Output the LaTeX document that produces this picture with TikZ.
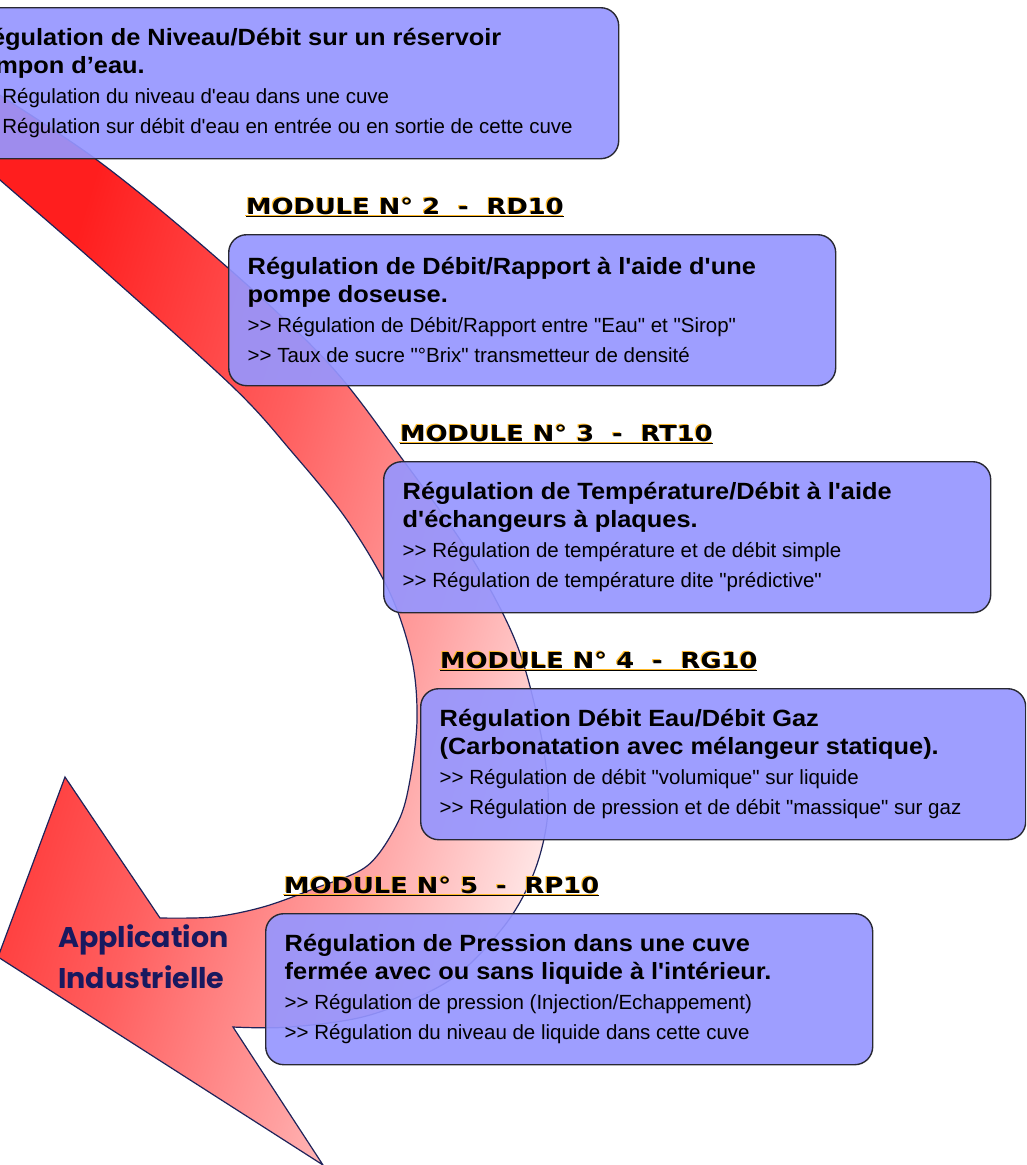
\documentclass[tikz,border=0pt]{standalone}
\usepackage{fontspec}
\setmainfont{Liberation Sans}
\newfontfamily\boxfam[FakeStretch=1.08,Ligatures=TeXOff]{Liberation Sans}
\newfontfamily\linefam[Ligatures=TeXOff]{Liberation Sans}
\newfontfamily\headfam[FakeStretch=1.17]{DejaVu Sans}
\newfontfamily\appfam{Poppins}
\setlength\parindent{0pt}

\definecolor{boxblue}{RGB}{150,150,255}
\definecolor{boxline}{RGB}{40,40,50}
\definecolor{arrowred}{RGB}{255,30,30}
\definecolor{arrowmid}{RGB}{255,95,95}
\definecolor{arrowpink}{RGB}{255,160,160}
\definecolor{arrowpale}{RGB}{255,238,238}
\definecolor{arrowline}{RGB}{30,35,90}
\definecolor{appnavy}{RGB}{25,25,95}
\definecolor{headglow}{RGB}{255,185,40}

\pgfdeclarehorizontalshading{redfade}{100bp}{color(0bp)=(arrowred); color(30bp)=(arrowred); color(48bp)=(arrowmid); color(62bp)=(arrowpink); color(76bp)=(arrowpale); color(100bp)=(arrowpale)}

\newcommand\modtitle{\boxfam\bfseries\fontsize{23.5}{28}\selectfont\spaceskip=7pt\relax}
\newcommand\modline{\linefam\mdseries\fontsize{20.5}{30}\selectfont\spaceskip=0pt\relax}
\newcommand\modhead[1]{\rlap{\kern-1.1pt\raisebox{0.6pt}{\color{headglow}\underline{#1}}}\underline{#1}}

\begin{document}
\begin{tikzpicture}[x=1pt, y=-1pt,
	modbox/.style={draw=boxline, line width=1.4pt, fill=boxblue, fill opacity=0.92, text opacity=1,
		rounded corners=18pt, anchor=north west, minimum width=607pt, minimum height=151pt,
		inner xsep=19pt, text width=569pt, align=left},
	headtext/.style={anchor=base west, inner sep=0pt, font=\headfam\bfseries\fontsize{22}{26}\selectfont},
	apptext/.style={anchor=base west, inner sep=0pt, align=left, text=appnavy,
		font=\appfam\bfseries\fontsize{28.5}{41}\selectfont},
	arrowshape/.style={draw=arrowline, line width=1.2pt, shading=redfade, shading angle=-17}]

	\useasboundingbox (0,0) rectangle (1026,1165);
	\clip (0,0) rectangle (1026,1165);

	% big curved arrow behind the modules
	\shade[arrowshape] plot[smooth, tension=0.55] coordinates {(-40,70) (97,160) (227,267) (330,365) (403,460) (470,555) (517,645) (542,740) (548,810) (535,870) (505,925) (450,980) (370,1015) (290,1027) (233,1027)}
		-- (323,1165) -- (-2,957) -- (65,777) -- (160,918)
		-- plot[smooth, tension=0.55] coordinates {(160,918) (213,917) (263,907) (313,889) (367,866) (398,822) (410,780) (417,720) (412,660) (390,593) (347,520) (292,452) (233,387) (100,267) (0,180) (-40,145)}
		-- cycle;

	\node[apptext] (app) at (58,988) {Application\\Industrielle};

	% modules
	\node[modbox, minimum width=665pt, text width=627pt] (rn) at (-47,7) {\modtitle Régulation de Niveau/Débit sur un réservoir\\tampon d’eau.\par
		\modline >> Régulation du niveau d'eau dans une cuve\\>> Régulation sur débit d'eau en entrée ou en sortie de cette cuve\par};

	\node[headtext] (hrd) at (246,214) {\modhead{MODULE N° 2\ \ -\ \ RD10}};
	\node[modbox] (rd) at (228,234) {\modtitle Régulation de Débit/Rapport à l'aide d'une\\pompe doseuse.\par
		\modline >> Régulation de Débit/Rapport entre "Eau" et "Sirop"\\>> Taux de sucre "°Brix" transmetteur de densité\par};

	\node[headtext] (hrt) at (400,441) {\modhead{MODULE N° 3\ \ -\ \ RT10}};
	\node[modbox] (rt) at (383,461) {\modtitle Régulation de Température/Débit à l'aide\\d'échangeurs à plaques.\par
		\modline >> Régulation de température et de débit simple\\>> Régulation de température dite "prédictive"\par};

	\node[headtext] (hrg) at (440,668) {\modhead{MODULE N° 4\ \ -\ \ RG10}};
	\node[modbox, minimum width=605pt, text width=567pt] (rg) at (420,688) {\modtitle Régulation Débit Eau/Débit Gaz\\(Carbonatation avec mélangeur statique).\par
		\modline >> Régulation de débit "volumique" sur liquide\\>> Régulation de pression et de débit "massique" sur gaz\par};

	\node[headtext] (hrp) at (284,893) {\modhead{MODULE N° 5\ \ -\ \ RP10}};
	\node[modbox] (rp) at (265,913) {\modtitle Régulation de Pression dans une cuve\\fermée avec ou sans liquide à l'intérieur.\par
		\modline >> Régulation de pression (Injection/Echappement)\\>> Régulation du niveau de liquide dans cette cuve\par};

\end{tikzpicture}
\end{document}
